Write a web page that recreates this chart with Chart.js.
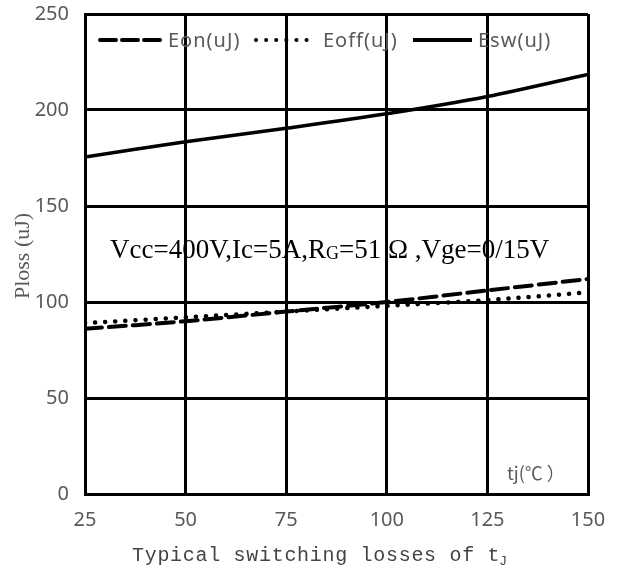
<!DOCTYPE html>
<html>
<head>
<meta charset="utf-8">
<script src="https://cdn.jsdelivr.net/npm/chart.js@4"></script>
<style>
  html, body { margin: 0; padding: 0; background: #fff; }
  #wrap { width: 623px; height: 568px; position: relative; }
</style>
</head>
<body>
<div id="wrap"><canvas id="myChart" width="623" height="568"></canvas></div>
<script>
// 온도별 스위칭 손실
const temps = [25, 50, 75, 100, 125, 150];
const eon = [86, 90, 95, 100, 106, 112];
const eoff = [89, 92, 95, 98, 101, 105];
const esw = [175.5, 183.5, 190.5, 198, 207, 218.5];
const yTicks = [0, 50, 100, 150, 200, 250];

const gray = '#595959';

function pts(arr) {
    return temps.map((t, i) => ({ x: t, y: arr[i] }));
}

// 범례, 주석, 축 제목 직접 그리기
const extras = {
    id: 'extras',
    afterDatasetsDraw(chart) {
        const ctx = chart.ctx;
        const sets = chart.data.datasets;
        ctx.save();

        // 범례
        ctx.font = '20px "Noto Sans"';
        ctx.letterSpacing = '1px';
        ctx.textBaseline = 'middle';
        const items = [
            { x: 100, len: 62, tx: 168, dash: [16, 6], cap: 'round', ds: sets[0] },
            { x: 256, len: 54, tx: 323, dash: [0.1, 10], cap: 'round', ds: sets[1] },
            { x: 413, len: 59, tx: 478, dash: [], cap: 'butt', ds: sets[2] }
        ];
        items.forEach(it => {
            ctx.strokeStyle = '#000';
            ctx.lineWidth = 4;
            ctx.lineCap = it.cap;
            ctx.setLineDash(it.dash);
            ctx.beginPath();
            ctx.moveTo(it.x, 40);
            ctx.lineTo(it.x + it.len, 40);
            ctx.stroke();
            ctx.setLineDash([]);
            ctx.fillStyle = gray;
            ctx.textAlign = 'left';
            ctx.fillText(it.ds.label, it.tx, 41);
        });
        ctx.letterSpacing = '0px';

        // 조건 주석
        ctx.fillStyle = '#000';
        ctx.font = '27px "Liberation Serif"';
        ctx.textAlign = 'left';
        ctx.textBaseline = 'alphabetic';
        let x = 110;
        const y = 258;
        const t1 = 'Vcc=400V,Ic=5A,R';
        ctx.fillText(t1, x, y);
        x += ctx.measureText(t1).width;
        ctx.font = '18px "Liberation Serif"';
        ctx.fillText('G', x, y + 1);
        x += ctx.measureText('G').width;
        ctx.font = '27px "Liberation Serif"';
        ctx.fillText('=51 Ω ,Vge=0/15V', x, y);

        // tj(℃)
        ctx.fillStyle = gray;
        ctx.font = '18px "Noto Sans CJK SC"';
        ctx.fillText('tj(℃ ）', 507, 480);

        // y축 제목
        ctx.save();
        ctx.translate(22, 256);
        ctx.rotate(-Math.PI / 2);
        ctx.textAlign = 'center';
        ctx.fillStyle = gray;
        ctx.font = '22px "Liberation Serif"';
        ctx.fillText('Ploss (uJ)', 0, 7);
        ctx.restore();

        // x축 제목 (글자 간격 고정)
        ctx.fillStyle = '#444';
        ctx.font = '20px "Liberation Mono"';
        ctx.textAlign = 'left';
        const xt = 'Typical switching losses of t';
        let cx = 132;
        for (const ch of xt) {
            ctx.fillText(ch, cx, 561);
            cx += 12.7;
        }
        ctx.font = '13px "Liberation Mono"';
        ctx.fillText('J', cx - 1, 565);

        ctx.restore();
    }
};

const data = {
    datasets: [{
        label: 'Eon(uJ)',
        data: pts(eon),
        borderColor: '#000',
        borderWidth: 4,
        borderDash: [17, 7],
        borderCapStyle: 'round',
        pointRadius: 0,
        tension: 0.3
    }, {
        label: 'Eoff(uJ)',
        data: pts(eoff),
        borderColor: '#000',
        borderWidth: 4.5,
        borderDash: [0.1, 10],
        borderCapStyle: 'round',
        pointRadius: 0,
        tension: 0.3
    }, {
        label: 'Esw(uJ)',
        data: pts(esw),
        borderColor: '#000',
        borderWidth: 3.5,
        pointRadius: 0,
        tension: 0.3
    }]
};

const config = {
    type: 'line',
    data: data,
    options: {
        responsive: false,
        animation: false,
        layout: { padding: { top: 14, right: 35, left: 0, bottom: 0 } },
        plugins: {
            legend: { display: false },
            tooltip: { enabled: false }
        },
        scales: {
            x: {
                type: 'linear',
                min: 25,
                max: 150,
                afterFit: s => { s.height = 74; s.paddingLeft = 0; s.paddingRight = 0; },
                afterBuildTicks: s => { s.ticks = temps.map(v => ({ value: v })); },
                ticks: {
                    color: gray,
                    font: { family: 'Noto Sans', size: 20 },
                    padding: 14,
                    maxRotation: 0
                },
                grid: { color: '#000', lineWidth: 3, drawTicks: false },
                border: { color: '#000', width: 3 }
            },
            y: {
                min: 0,
                max: 250,
                afterFit: s => { s.width = 85; s.paddingTop = 0; s.paddingBottom = 0; },
                afterBuildTicks: s => { s.ticks = yTicks.map(v => ({ value: v })); },
                ticks: {
                    color: gray,
                    font: { family: 'Noto Sans', size: 20 },
                    padding: 16
                },
                grid: { color: '#000', lineWidth: 3, drawTicks: false },
                border: { color: '#000', width: 3 }
            }
        }
    },
    plugins: [extras]
};

const myChart = new Chart(
    document.getElementById('myChart'),
    config
);
</script>
</body>
</html>
